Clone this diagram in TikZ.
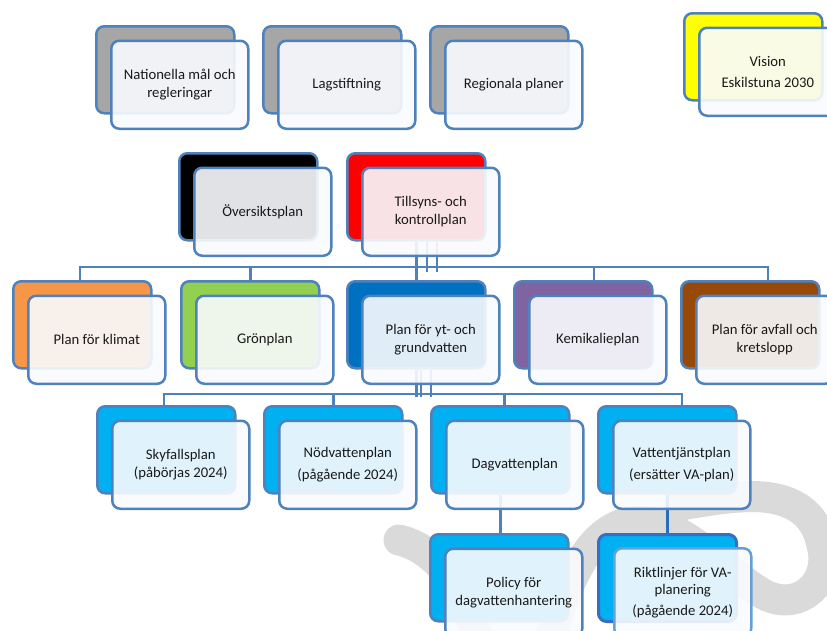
\documentclass[tikz,border=0pt]{standalone}
\usepackage{fontspec}
\setmainfont{Carlito}
\usetikzlibrary{calc}
\definecolor{bdr}{RGB}{79,129,189}
\definecolor{bdrdark}{RGB}{58,108,196}
\definecolor{bdrlight}{RGB}{100,160,215}
\definecolor{cgray}{RGB}{166,166,166}
\definecolor{cyellow}{RGB}{255,255,0}
\definecolor{cred}{RGB}{255,0,0}
\definecolor{corange}{RGB}{247,150,70}
\definecolor{cgreen}{RGB}{146,208,80}
\definecolor{cdblue}{RGB}{0,112,192}
\definecolor{cpurple}{RGB}{128,100,162}
\definecolor{cbrown}{RGB}{152,72,7}
\definecolor{clblue}{RGB}{0,176,240}
\definecolor{wm}{RGB}{218,218,218}
\definecolor{txt}{RGB}{25,25,25}
\definecolor{frontfill}{RGB}{249,251,254}
\definecolor{connblue}{RGB}{40,110,190}
\tikzset{
  backbox/.style={anchor=north west, draw=bdr, line width=2.5pt, rounded corners=8pt,
    minimum width=138pt, minimum height=87pt, inner sep=0pt},
  frontbox/.style={anchor=north west, draw=bdr, line width=2.5pt, rounded corners=8pt,
    minimum width=137pt, minimum height=88pt, inner sep=0pt, fill=frontfill, fill opacity=0.9,
    text opacity=1, align=center, text=txt, font=\fontsize{14.7pt}{17.5pt}\selectfont},
  conn/.style={draw=bdr, line width=2.5pt},
  wmstroke/.style={draw=wm, line width=31pt, line cap=round},
}
\newcommand\card[5]{%
  \node[backbox, fill=#2] (#1b) at (#3,#4) {};
  \node[frontbox] (#1) at (#3+15,#4+14.5) {#5};}
\begin{document}
\begin{tikzpicture}[x=1pt,y=-1pt]
\useasboundingbox (0,0) rectangle (827,630);
\begin{scope}
\clip (0,0) rectangle (827,630);
% watermark swoosh
\draw[wmstroke] (399,540) .. controls (432,548) and (462,578) .. (482,650);
\draw[wmstroke] (545,660) .. controls (565,578) and (590,530) .. (630,522)
  .. controls (680,515) and (720,570) .. (765,595)
  .. controls (800,612) and (832,582) .. (822,545)
  .. controls (814,505) and (780,494) .. (740,497)
  .. controls (720,498) and (700,502) .. (680,505);

% geometry anchors (same positions as the card backs)
\coordinate (bus1l) at (80,267);
\coordinate (bus1r) at (768,267);
\coordinate (bus2l) at (164,394);
\coordinate (bus2r) at (682,394);
\path (346,152) node[backbox, draw=none] (tilp) {};
\path (12,280) node[backbox, draw=none] (klip) {};
\path (180,280) node[backbox, draw=none] (grop) {};
\path (346,280) node[backbox, draw=none] (ytp) {};
\path (513,280) node[backbox, draw=none] (kemp) {};
\path (680,280) node[backbox, draw=none] (avfp) {};
\path (96,405) node[backbox, draw=none] (skyp) {};
\path (263,405) node[backbox, draw=none] (nodp) {};
\path (430,405) node[backbox, draw=none] (dagp) {};
\path (597,405) node[backbox, draw=none] (vatp) {};
\path (429,533) node[backbox, draw=none] (polp) {};
\path (597,533) node[backbox, draw=none] (rikp) {};

% connectors level 1
\draw[conn] (klip.north -| bus1l) -- (bus1l) -- (bus1r) -- (bus1r |- avfp.north);
\draw[conn] (grop.north) -- (grop.north |- bus1l);
\draw[conn] (tilp.south) -- (ytp.north);
\draw[conn] ($(tilp.south)+(10.5,0)$) -- ($(tilp.south)+(10.5,30)$);
\draw[conn] ($(tilp.south)+(20.5,0)$) -- ($(tilp.south)+(20.5,30)$);
\draw[conn] ($(kemp.north)+(10.5,0)$) -- ($(kemp.north)+(10.5,-13)$);
% connectors level 2
\draw[conn] (skyp.north -| bus2l) -- (bus2l) -- (bus2r) -- (bus2r |- vatp.north);
\draw[conn] (nodp.north) -- (nodp.north |- bus2l);
\draw[conn] ($(dagp.north)+(4,0)$) -- ($(dagp.north)+(4,-11)$);
\draw[conn] (ytp.south) -- ($(ytp.south)+(0,27)$);
\draw[conn] ($(ytp.south)+(4.5,0)$) -- ($(ytp.south)+(4.5,27)$);
\draw[conn] ($(ytp.south)+(14.5,0)$) -- ($(ytp.south)+(14.5,27)$);
% connectors level 3
\draw[conn] (dagp.south) -- (dagp.south |- polp.north);
\draw[conn, draw=connblue, line width=3pt] (vatp.south) -- (vatp.south |- rikp.north);

% cards
\card{nat}{cgray}{95}{25}{Nationella mål och\\regleringar}
\card{lag}{cgray}{262}{25}{Lagstiftning}
\card{reg}{cgray}{429}{25}{Regionala planer}
\card{vis}{cyellow}{683}{12}{Vision\\[3pt]Eskilstuna 2030}
\card{ovs}{black}{178}{152}{Översiktsplan}
\card{til}{cred}{346}{152}{Tillsyns- och\\kontrollplan}
\card{kli}{corange}{12}{280}{Plan för klimat}
\card{gro}{cgreen}{180}{280}{Grönplan}
\card{yt}{cdblue}{346}{280}{Plan för yt- och\\grundvatten}
\card{kem}{cpurple}{513}{280}{Kemikalieplan}
\card{avf}{cbrown}{680}{280}{Plan för avfall och\\kretslopp}
\card{sky}{clblue}{96}{405}{Skyfallsplan\\(påbörjas 2024)}
\card{nod}{clblue}{263}{405}{Nödvattenplan\\[4pt](pågående 2024)}
\card{dag}{clblue}{430}{405}{Dagvattenplan}
\card{vat}{clblue}{597}{405}{Vattentjänstplan\\[4pt](ersätter VA-plan)}
\card{pol}{clblue}{429}{533}{Policy för\\dagvattenhantering}
\node[backbox, fill=clblue, draw=bdrdark, line width=3pt] (rikb) at (597,533) {};
\node[frontbox, draw=bdrlight] (rik) at (613,547) {Riktlinjer för VA-\\planering\\[3pt](pågående 2024)};
\end{scope}
\end{tikzpicture}
\end{document}
